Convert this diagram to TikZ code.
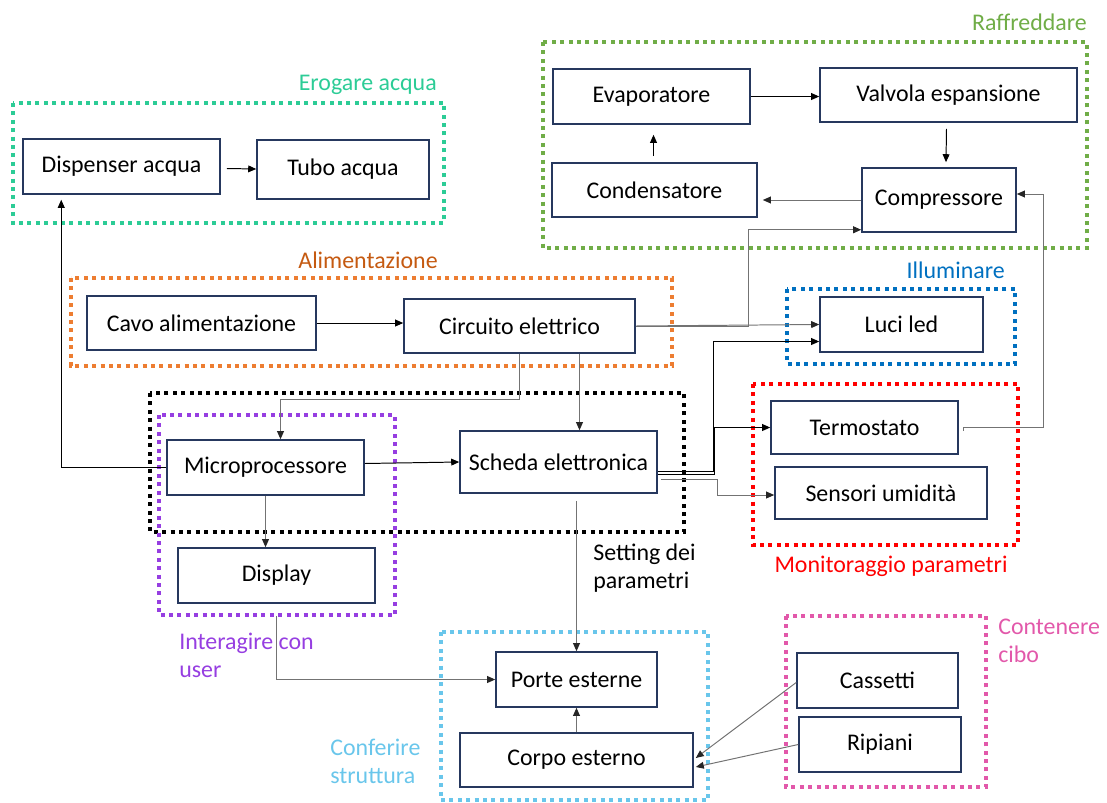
\documentclass[tikz,border=0pt]{standalone}
\usepackage{fontspec}
\setmainfont{Carlito}
\usetikzlibrary{calc,arrows.meta}
\definecolor{navy}{RGB}{38,56,94}
\definecolor{tealgrp}{RGB}{44,204,150}
\definecolor{greengrp}{RGB}{112,173,71}
\definecolor{orangegrp}{RGB}{237,125,49}
\definecolor{orangetxt}{RGB}{197,90,17}
\definecolor{bluegrp}{RGB}{0,112,192}
\definecolor{redgrp}{RGB}{255,0,0}
\definecolor{purplegrp}{RGB}{150,62,225}
\definecolor{skygrp}{RGB}{105,198,235}
\definecolor{pinkgrp}{RGB}{226,88,170}
\tikzset{
	box/.style={draw=navy, line width=1.1pt, inner sep=0pt, font=\fontsize{17}{20}\selectfont},
	grp/.style={line width=0.09cm, dash pattern=on 0.1cm off 0.11cm},
	lbl/.style={inner sep=0pt, align=left, font=\fontsize{17}{20}\selectfont},
	arr/.style={line width=0.7pt, -{Triangle[length=0.2cm,width=0.17cm]}},
	garr/.style={line width=0.7pt, draw=black!55, -{Triangle[length=0.2cm,width=0.17cm,color=black!85]}},
}
\def\blockbox(#1,#2)(#3,#4)#5#6{\node[box, minimum width={(#3-#1)*0.025cm}, minimum height={(#4-#2)*0.025cm}] (#5) at ({(#1+#3)/2},{(#2+#4)/2}) {#6};}

\begin{document}
\begin{tikzpicture}[x=0.025cm, y=-0.025cm]
		%%%%% START %%%%%
		\useasboundingbox (0, 0) rectangle (1107, 803);
		
		\draw[grp, color=greengrp] (543, 42) rectangle (1087, 248);
		\draw[grp, color=tealgrp] (13, 103) rectangle (444, 223);
		\draw[grp, color=orangegrp] (71, 278) rectangle (672, 366);
		\draw[grp, color=bluegrp] (787, 289) rectangle (1015, 364);
		\draw[grp, color=redgrp] (753, 384) rectangle (1018, 545);
		\draw[grp, color=black] (150, 393) rectangle (684, 532);
		\draw[grp, color=purplegrp] (159, 415) rectangle (395, 615);
		\draw[grp, color=skygrp] (441, 632) rectangle (708, 800);
		\draw[grp, color=pinkgrp] (786, 616) rectangle (986, 787);
		
		\node[lbl, text=greengrp, anchor=east] (lraff) at (1087, 22) {Raffreddare};
		\node[lbl, text=tealgrp, anchor=east] (lerog) at (437, 85) {Erogare acqua};
		\node[lbl, text=orangetxt, anchor=east] (lalim) at (438, 260) {Alimentazione};
		\node[lbl, text=bluegrp, anchor=east] (lillu) at (1005, 270) {Illuminare};
		\node[lbl, text=redgrp] (lmoni) at (891, 566) {Monitoraggio parametri};
		\node[lbl, text=purplegrp, anchor=west] (linter) at (179, 655) {Interagire con\\user};
		\node[lbl, text=skygrp, anchor=west] (lconf) at (330, 761) {Conferire\\struttura};
		\node[lbl, text=pinkgrp, anchor=west] (lcont) at (998, 641) {Contenere\\cibo};
		\node[lbl, anchor=west] (lsett) at (593, 568) {Setting dei\\parametri};
		
		\blockbox(553,69)(750,124){evap}{Evaporatore}
		\blockbox(820,68)(1077,122){valv}{Valvola espansione}
		\blockbox(552,163)(757,217){cond}{Condensatore}
		\blockbox(862,168)(1016,232){comp}{Compressore}
		\blockbox(23,139)(220,194){disp}{Dispenser acqua}
		\blockbox(257,140)(429,199){tubo}{Tubo acqua}
		\blockbox(87,296)(316,350){cavo}{Cavo alimentazione}
		\blockbox(404,299)(635,353){circ}{Circuito elettrico}
		\blockbox(820,297)(983,352){luci}{Luci led}
		\blockbox(771,401)(958,454){term}{Termostato}
		\blockbox(775,467)(987,519){sens}{Sensori umidità}
		\blockbox(167,440)(364,495){micro}{Microprocessore}
		\blockbox(460,431)(657,493){scheda}{Scheda elettronica}
		\blockbox(178,548)(375,603){displ}{Display}
		\blockbox(496,652)(657,707){porte}{Porte esterne}
		\blockbox(460,733)(693,787){corpo}{Corpo esterno}
		\blockbox(797,653)(958,708){cass}{Cassetti}
		\blockbox(799,717)(961,772){ripi}{Ripiani}
		
		\draw[arr] ($(disp.east)+(6,2)$) -- (tubo.west |- 0,169);
		\draw[arr] (cavo.east) -- (circ.west |- cavo.east);
		\draw[arr] (evap.east) -- (valv.west |- evap.east);
		\draw[arr] ($(valv.south)+(-2,6)$) -- ($(comp.north)+(7,-5)$);
		\draw[garr] (comp.west) -- ($(cond.east |- comp.west)+(5,0)$);
		\draw[arr] ($(cond.north)+(-1,-6)$) -- ($(evap.south)+(2,10)$);
		
		\draw[garr] (circ.east) -- (luci.west);
		\draw[garr] (circ.east) -- ++(113, 0) |- ($(comp.south west)+(0,-3)$);
		\draw[garr] ($(term.east)+(5,3)$) -- ($(term.east)+(5,0)$) -- ++(80, 0) |- ($(comp.east)+(0,-6)$);
		
		\draw[garr] (circ.south) -- ++(0, 46) -| ($(micro.north)+(15,0)$);
		\draw[garr] ($(circ.south)+(60,0)$) -- ($(scheda.north)+(21,0)$);
		\draw[arr] (micro.west) -| ($(disp.south west)+(39,5)$);
		\draw[arr] ($(micro.east)+(0,-4)$) -- (scheda.west);
		\draw[garr] (micro.south) -- (micro.south |- displ.north);
		
		\draw[arr] ($(scheda.east)+(0,9)$) -- ++(56, 0) |- ($(luci.west)+(0,17)$);
		\draw[arr] ($(scheda.east)+(0,12)$) -- ++(57, 0) |- (term.west);
		\draw[garr] ($(scheda.east)+(3,17)$) -- ++(57, 0) |- ($(sens.west)+(0,2)$);
		
		\draw[garr] ($(displ.south)+(0,12)$) |- (porte.west);
		\draw[garr] ($(scheda.south -| porte.north)+(0,7)$) -- (porte.north);
		\draw[garr] (corpo.north) -- (porte.south);
		\draw[garr] ($(cass.west)+(0,2)$) -- ($(corpo.east)+(2,-2)$);
		\draw[garr] (ripi.west) -- ($(corpo.east)+(2,7)$);
		
		%%%%% END %%%%%
\end{tikzpicture}
\end{document}
